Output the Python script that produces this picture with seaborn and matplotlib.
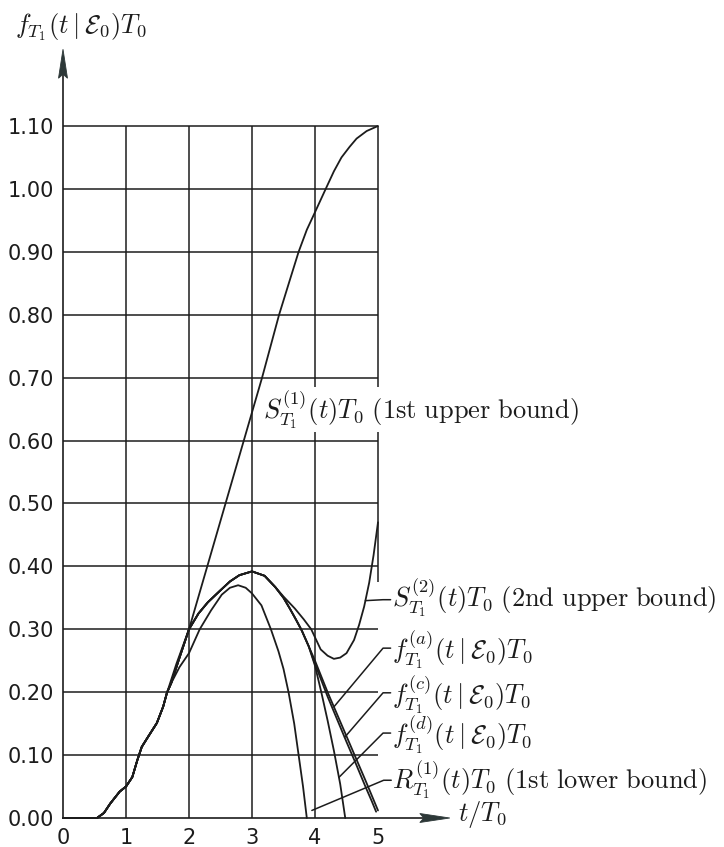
import numpy as np
import pandas as pd
import matplotlib
matplotlib.use("Agg")
import matplotlib.pyplot as plt
from matplotlib.patches import Polygon
import seaborn as sns

sns.set_theme(style="white")
plt.rcParams["font.family"] = ["DejaVu Sans"]
plt.rcParams["mathtext.fontset"] = "cm"

INK = "#1c1c1c"
ARROW = "#2d3838"

# ---- data (t / T0 versus density * T0) ----
# common foot shared by every curve
t_rise = [0.0, 0.54, 0.65, 0.75, 0.9, 1.0, 1.1, 1.18, 1.25, 1.35, 1.49, 1.59, 1.65]
y_rise = [0.0, 0.0, 0.008, 0.023, 0.042, 0.05, 0.065, 0.092, 0.113, 0.129, 0.151, 0.177, 0.199]

# 1st upper bound
t_s1 = [1.8, 2.0, 2.29, 2.58, 2.87, 3.16, 3.43, 3.6, 3.74, 3.87, 4.0, 4.17, 4.3, 4.42, 4.55, 4.66, 4.82, 5.0]
y_s1 = [0.245, 0.30, 0.40, 0.50, 0.60, 0.70, 0.80, 0.855, 0.90, 0.935, 0.963, 1.00, 1.028, 1.05, 1.067, 1.08, 1.092, 1.10]

# hump shared by the 2nd upper bound and the three densities
t_hump = [1.72, 1.85, 2.0, 2.15, 2.3, 2.5, 2.65, 2.8, 3.0, 3.2, 3.37]
y_hump = [0.215, 0.255, 0.30, 0.325, 0.343, 0.362, 0.376, 0.386, 0.392, 0.385, 0.367]

# 2nd upper bound tail
t_s2 = [3.5, 3.68, 3.82, 3.94, 4.09, 4.2, 4.3, 4.4, 4.5, 4.62, 4.7, 4.78, 4.86, 4.93, 5.0]
y_s2 = [0.352, 0.333, 0.316, 0.30, 0.268, 0.258, 0.253, 0.255, 0.262, 0.283, 0.307, 0.336, 0.374, 0.418, 0.47]

# descent shared by f(a), f(c), f(d)
t_fdesc = [3.5, 3.6, 3.7, 3.79, 3.9]
y_fdesc = [0.35, 0.333, 0.315, 0.298, 0.273]

t_fa = [4.0, 4.1, 4.2, 4.35, 4.5, 4.65, 4.8, 4.9, 5.0]
y_fa = [0.25, 0.225, 0.20, 0.165, 0.13, 0.095, 0.06, 0.036, 0.012]

t_fc = [4.0, 4.1, 4.2, 4.35, 4.5, 4.65, 4.8, 4.9, 4.97]
y_fc = [0.245, 0.219, 0.193, 0.157, 0.121, 0.086, 0.05, 0.027, 0.01]

t_fd = [4.0, 4.1, 4.2, 4.3, 4.4, 4.48]
y_fd = [0.242, 0.20, 0.155, 0.107, 0.054, 0.0]

# 1st lower bound
t_r1 = [1.72, 1.85, 2.0, 2.17, 2.35, 2.52, 2.65, 2.78, 2.9, 3.0, 3.15, 3.3, 3.42, 3.5, 3.58, 3.67, 3.74, 3.81, 3.87]
y_r1 = [0.215, 0.24, 0.262, 0.30, 0.33, 0.355, 0.366, 0.37, 0.366, 0.357, 0.338, 0.30, 0.265, 0.237, 0.20, 0.15, 0.10, 0.05, 0.0]

x_ticks = [0, 1, 2, 3, 4, 5]
x_tick_labels = ["0", "1", "2", "3", "4", "5"]
y_ticks = [0.0, 0.1, 0.2, 0.3, 0.4, 0.5, 0.6, 0.7, 0.8, 0.9, 1.0, 1.1]
y_tick_labels = ["0.00", "0.10", "0.20", "0.30", "0.40", "0.50",
                 "0.60", "0.70", "0.80", "0.90", "1.00", "1.10"]

curves = {
    "S1": (t_rise + t_s1, y_rise + y_s1),
    "S2": (t_rise + t_hump + t_s2, y_rise + y_hump + y_s2),
    "fa": (t_rise + t_hump + t_fdesc + t_fa, y_rise + y_hump + y_fdesc + y_fa),
    "fc": (t_rise + t_hump + t_fdesc + t_fc, y_rise + y_hump + y_fdesc + y_fc),
    "fd": (t_rise + t_hump + t_fdesc + t_fd, y_rise + y_hump + y_fdesc + y_fd),
    "R1": (t_rise + t_r1, y_rise + y_r1),
}
df = pd.concat(
    [pd.DataFrame({"t": t, "value": y, "curve": name}) for name, (t, y) in curves.items()],
    ignore_index=True,
)

# ---- figure ----
fig = plt.figure(figsize=(7.24, 8.47), dpi=100)
ax = fig.add_axes([63 / 724, 29 / 847, 315 / 724, 692 / 847])
ax.set_xlim(0, 5)
ax.set_ylim(0, 1.10)
for s in ax.spines.values():
    s.set_visible(False)
ax.grid(False)

# data units per pixel
px = 5 / 315
py = 1.10 / 692

# grid
ax.hlines(y_ticks[1:], 0, 5, color=INK, lw=1.1, zorder=1, clip_on=False)
ax.vlines(x_ticks[1:5], 0, 1.10, color=INK, lw=1.1, zorder=1, clip_on=False)
ax.vlines(5, 0.375, 1.10, color=INK, lw=1.1, zorder=1, clip_on=False)

# axes with arrow heads
ax.plot([0, 0], [0, 1.19], color=INK, lw=1.2, clip_on=False, zorder=3)
ax.plot([0, 6.0], [0, 0], color=INK, lw=1.2, clip_on=False, zorder=3)
y_tip = 1.222
ax.add_patch(Polygon([(0, y_tip), (-4.5 * px, y_tip - 29 * py), (0, y_tip - 25 * py),
                      (4.5 * px, y_tip - 29 * py)], closed=True, fc=ARROW, ec=ARROW,
                     lw=0.6, clip_on=False, zorder=4))
x_tip = 6.14
ax.add_patch(Polygon([(x_tip, 0), (x_tip - 30 * px, 4.5 * py), (x_tip - 26 * px, 0),
                      (x_tip - 30 * px, -4.5 * py)], closed=True, fc=ARROW, ec=ARROW,
                     lw=0.6, clip_on=False, zorder=4))

# curves
sns.lineplot(data=df, x="t", y="value", units="curve", estimator=None, sort=False,
             color=INK, lw=1.3, legend=False, ax=ax, zorder=3)
for ln in ax.lines:
    ln.set_clip_on(False)

ax.set_xlabel("")
ax.set_ylabel("")
ax.set_xticks(x_ticks, x_tick_labels)
ax.set_yticks(y_ticks, y_tick_labels)
ax.tick_params(axis="both", direction="out", length=5, width=1.1, color=INK,
               labelcolor=INK, labelsize=15)
ax.tick_params(axis="y", pad=1.5)
ax.tick_params(axis="x", pad=2)

FS = 19
# axis titles
ax.text(-0.762, 1.248, r"$f_{T_1}(t\mid\mathcal{E}_0)T_0$", fontsize=FS,
        ha="left", va="baseline", color=INK)
ax.text(6.27, -0.005, r"$t/T_0$", fontsize=FS, ha="left", va="baseline", color=INK)

# curve labels
ax.text(3.17, 0.634, r"$S^{(1)}_{T_1}(t)T_0\ \mathrm{(1st\ upper\ bound)}$", fontsize=FS,
        ha="left", va="baseline", color=INK, zorder=2,
        bbox=dict(boxstyle="square,pad=0.05", fc="white", ec="none"))

labels = [
    (r"$S^{(2)}_{T_1}(t)T_0\ \mathrm{(2nd\ upper\ bound)}$", 0.3355, 0.347, "S2", 4.8),
    (r"$f^{(a)}_{T_1}(t\mid\mathcal{E}_0)T_0$", 0.253, 0.270, "fa", 4.3),
    (r"$f^{(c)}_{T_1}(t\mid\mathcal{E}_0)T_0$", 0.181, 0.199, "fc", 4.47),
    (r"$f^{(d)}_{T_1}(t\mid\mathcal{E}_0)T_0$", 0.118, 0.135, "fd", 4.38),
]
x_lab = 5.23
for text, y_base, y_hook, key, x_anchor in labels:
    ax.text(x_lab, y_base, text, fontsize=FS, ha="left", va="baseline", color=INK)
    t_c, v_c = curves[key]
    y_anchor = float(np.interp(x_anchor, t_c, v_c))
    ax.plot([5.20, 5.08, x_anchor], [y_hook, y_hook, y_anchor], color=INK, lw=1.1,
            clip_on=False, zorder=3)

ax.text(x_lab, 0.046, r"$R^{(1)}_{T_1}(t)T_0\ \mathrm{(1st\ lower\ bound)}$", fontsize=FS,
        ha="left", va="baseline", color=INK)
ax.plot([5.21, 5.09, 3.95], [0.060, 0.060, 0.012], color=INK, lw=1.1, clip_on=False, zorder=3)

fig.savefig("out.png", dpi=100, facecolor="white")
